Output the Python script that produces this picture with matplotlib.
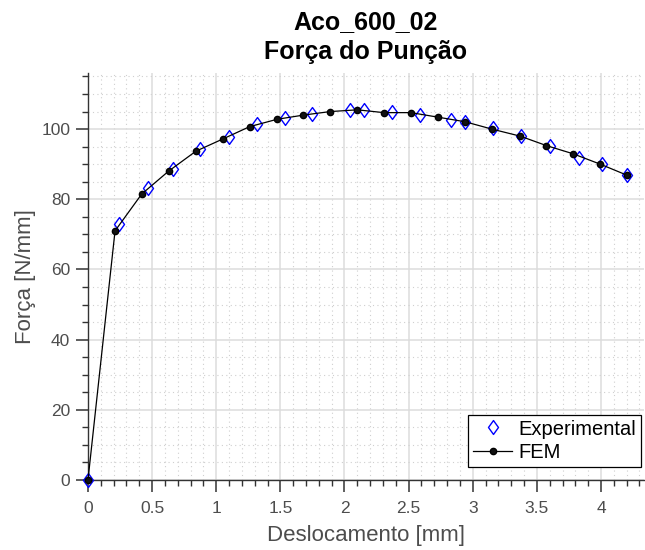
import matplotlib
matplotlib.use("Agg")
import matplotlib.pyplot as plt
from matplotlib.ticker import MultipleLocator, FuncFormatter
from matplotlib.path import Path

plt.rcParams['font.family'] = ['Liberation Sans', 'DejaVu Sans']

# Experimental punch force
exp_disp = [0.0, 0.24, 0.47, 0.664, 0.87, 1.10, 1.318, 1.54, 1.745, 2.04, 2.15,
            2.367, 2.59, 2.83, 2.94, 3.16, 3.375, 3.60, 3.83, 4.005, 4.20]
exp_force = [0.0, 72.9, 83.2, 88.7, 94.2, 97.8, 101.4, 103.1, 104.4, 105.4, 105.4,
             105.0, 104.0, 102.5, 102.1, 100.2, 98.0, 95.3, 91.7, 90.0, 86.9]

# FEM punch force
fem_disp = [0.0, 0.211, 0.419, 0.628, 0.841, 1.052, 1.26, 1.474, 1.68, 1.888, 2.10,
            2.307, 2.518, 2.73, 2.94, 3.15, 3.37, 3.575, 3.78, 3.995, 4.20]
fem_force = [0.0, 71.0, 81.5, 88.0, 93.7, 97.2, 100.7, 102.8, 104.0, 105.0, 105.5,
             104.7, 104.7, 103.4, 102.1, 100.0, 98.0, 95.3, 93.0, 90.0, 86.9]

title_lines = ["Aco_600_02", "Força do Punção"]
xlabel = "Deslocamento [mm]"
ylabel = "Força [N/mm]"

diamond = Path([(0, 1), (0.72, 0), (0, -1), (-0.72, 0), (0, 1)],
               [Path.MOVETO, Path.LINETO, Path.LINETO, Path.LINETO, Path.CLOSEPOLY])

fig = plt.figure(figsize=(6.45, 5.5), dpi=100)
ax = fig.add_axes([0.1364, 0.1273, 0.862, 0.740])

axis_col = '#333333'
text_col = '#4d4d4d'

ax.plot(exp_disp, exp_force, linestyle='none', marker=diamond, markersize=10,
        markerfacecolor='none', markeredgecolor='#0000ff', markeredgewidth=1.0,
        label='Experimental', zorder=3, clip_on=False)
ax.plot(fem_disp, fem_force, color='black', linewidth=0.9, marker='o',
        markersize=4.5, markerfacecolor='#111111', markeredgecolor='black',
        label='FEM', zorder=4, clip_on=False)

ax.set_xlim(0, 4.335)
ax.set_ylim(0, 116)
ax.xaxis.set_major_locator(MultipleLocator(0.5))
ax.xaxis.set_minor_locator(MultipleLocator(0.1))
ax.yaxis.set_major_locator(MultipleLocator(20))
ax.yaxis.set_minor_locator(MultipleLocator(5))
ax.xaxis.set_major_formatter(FuncFormatter(lambda v, p: f"{v:g}"))

ax.grid(which='major', color='#dcdcdc', linewidth=1.1, linestyle='-')
ax.grid(which='minor', color='#cfcfcf', linewidth=0.8, linestyle=(0, (1, 3)))
ax.set_axisbelow(True)

for side in ('top', 'right'):
    ax.spines[side].set_visible(False)
for side in ('left', 'bottom'):
    ax.spines[side].set_color(axis_col)
    ax.spines[side].set_linewidth(1.0)

ax.tick_params(which='major', direction='out', length=8.3, width=1.1,
               color=axis_col, labelcolor=text_col, labelsize=12.5, pad=4.5)
ax.tick_params(axis='x', which='major', pad=6.5)
ax.tick_params(which='minor', direction='out', length=4.3, width=1.0, color=axis_col)

ax.set_xlabel(xlabel, fontsize=16, color=text_col, labelpad=7)
ax.set_ylabel(ylabel, fontsize=16, color=text_col, labelpad=4)
ax.set_title("\n".join(title_lines), fontsize=18, fontweight='bold', color='black',
             linespacing=1.32, pad=10)

leg = ax.legend(loc='lower right', bbox_to_anchor=(641 / 645, 1 - 467 / 550),
                bbox_transform=fig.transFigure, borderaxespad=0,
                fontsize=14.5, frameon=True, fancybox=False,
                edgecolor='black', framealpha=1.0,
                handlelength=1.95, handletextpad=0.3, borderpad=0.25,
                labelspacing=0.22)
leg.get_frame().set_linewidth(0.9)

fig.savefig("out.png", dpi=100)
